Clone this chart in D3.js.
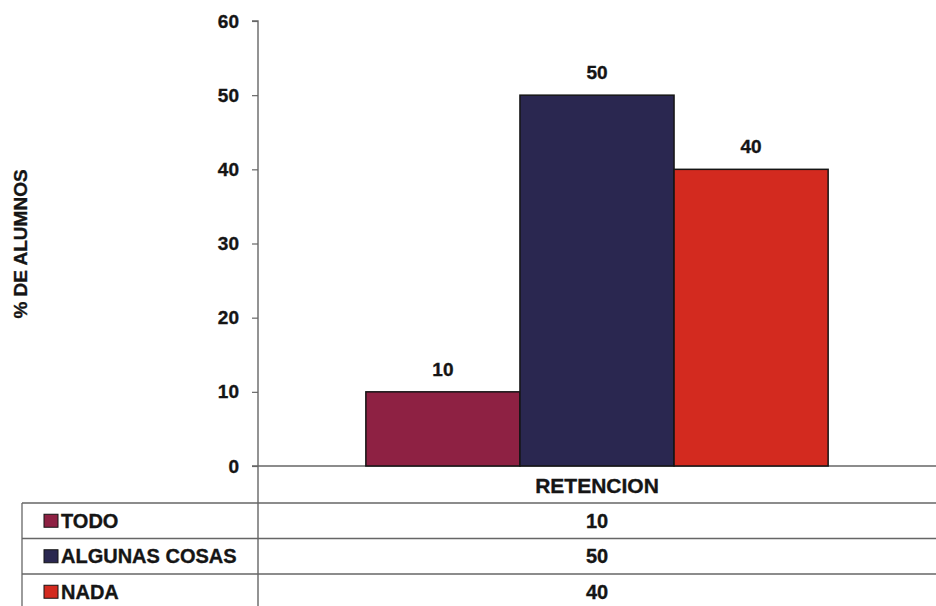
<!DOCTYPE html>
<html><head><meta charset="utf-8">
<script src="https://cdn.jsdelivr.net/npm/d3@7"></script>
<style>
body{margin:0;background:#fff;}
text{font-family:"Liberation Sans",Arial,sans-serif;font-weight:bold;fill:#151515;stroke:#151515;stroke-width:0.35px;}
</style></head>
<body><svg id="c" width="936" height="606"></svg>
<script>
const category = "RETENCION";
const seriesNames = ["TODO", "ALGUNAS COSAS", "NADA"];
const seriesValues = [10, 50, 40];
const seriesColors = ["#8e2143", "#2a2750", "#d32a1f"];
const yTicks = [0, 10, 20, 30, 40, 50, 60];
const yTitle = "% DE ALUMNOS";

const svg = d3.select("#c");
const mLeft = 258, mRight = 936, mTop = 21, mBottom = 466;

const y = d3.scaleLinear().domain([0, 60]).range([mBottom, mTop]);
const xCat = d3.scaleBand().domain([category]).range([mLeft, mRight]);
const xSer = d3.scaleBand().domain(seriesNames)
  .range([xCat(category), xCat(category) + xCat.bandwidth()]).paddingInner(0).paddingOuter(0.7);

// y axis
const ax = svg.append("g").attr("transform", `translate(${mLeft},0)`)
  .call(d3.axisLeft(y).tickValues(yTicks).tickSize(6).tickPadding(13));
ax.selectAll(".tick line").attr("stroke", "#666").attr("stroke-width", 1.2);
ax.selectAll(".tick text").style("font-size", "19px").attr("fill", "#151515");
ax.select(".domain").attr("stroke", "#666").attr("stroke-width", 1.4).attr("d", `M-6,${mTop}H0V606`);

// x baseline
svg.append("line").attr("x1", mLeft - 6).attr("x2", mRight).attr("y1", y(0)).attr("y2", y(0))
  .attr("stroke", "#666").attr("stroke-width", 1.4);

// bars
svg.selectAll("rect.bar").data(seriesNames).enter().append("rect")
  .attr("class", "bar")
  .attr("x", d => xSer(d))
  .attr("width", xSer.bandwidth())
  .attr("y", (d, i) => y(seriesValues[i]))
  .attr("height", (d, i) => y(0) - y(seriesValues[i]))
  .attr("fill", (d, i) => seriesColors[i])
  .attr("stroke", "#151515").attr("stroke-width", 1.5);

svg.selectAll("text.lbl").data(seriesNames).enter().append("text")
  .attr("class", "lbl")
  .attr("x", d => xSer(d) + xSer.bandwidth() / 2)
  .attr("y", (d, i) => y(seriesValues[i]) - 16)
  .attr("text-anchor", "middle").style("font-size", "19px")
  .text((d, i) => seriesValues[i]);

// y title
svg.append("text").attr("transform", "translate(27,244) rotate(-90)")
  .attr("text-anchor", "middle").style("font-size", "19px").text(yTitle);

// data table
const tableTop = 503, rowH = 35.5, tableLeft = 22;
const cx = xCat(category) + xCat.bandwidth() / 2;
svg.append("text").attr("x", cx).attr("y", 493).attr("text-anchor", "middle")
  .style("font-size", "21px").text(category);
const lines = [tableTop, tableTop + rowH, tableTop + 2 * rowH];
svg.selectAll("line.row").data(lines).enter().append("line")
  .attr("x1", tableLeft).attr("x2", mRight).attr("y1", d => d).attr("y2", d => d)
  .attr("stroke", "#666").attr("stroke-width", 1.3);
svg.append("line").attr("x1", tableLeft).attr("x2", tableLeft).attr("y1", tableTop).attr("y2", 606)
  .attr("stroke", "#666").attr("stroke-width", 1.3);

seriesNames.forEach((s, i) => {
  const cy = tableTop + rowH * i + rowH / 2;
  svg.append("rect").attr("x", 44).attr("y", cy - 6.5).attr("width", 14).attr("height", 13)
    .attr("fill", seriesColors[i]).attr("stroke", "#151515").attr("stroke-width", 1);
  svg.append("text").attr("x", 61).attr("y", cy + 7).style("font-size", "20px").text(s);
  svg.append("text").attr("x", cx).attr("y", cy + 7).attr("text-anchor", "middle")
    .style("font-size", "20px").text(seriesValues[i]);
});
</script></body></html>
